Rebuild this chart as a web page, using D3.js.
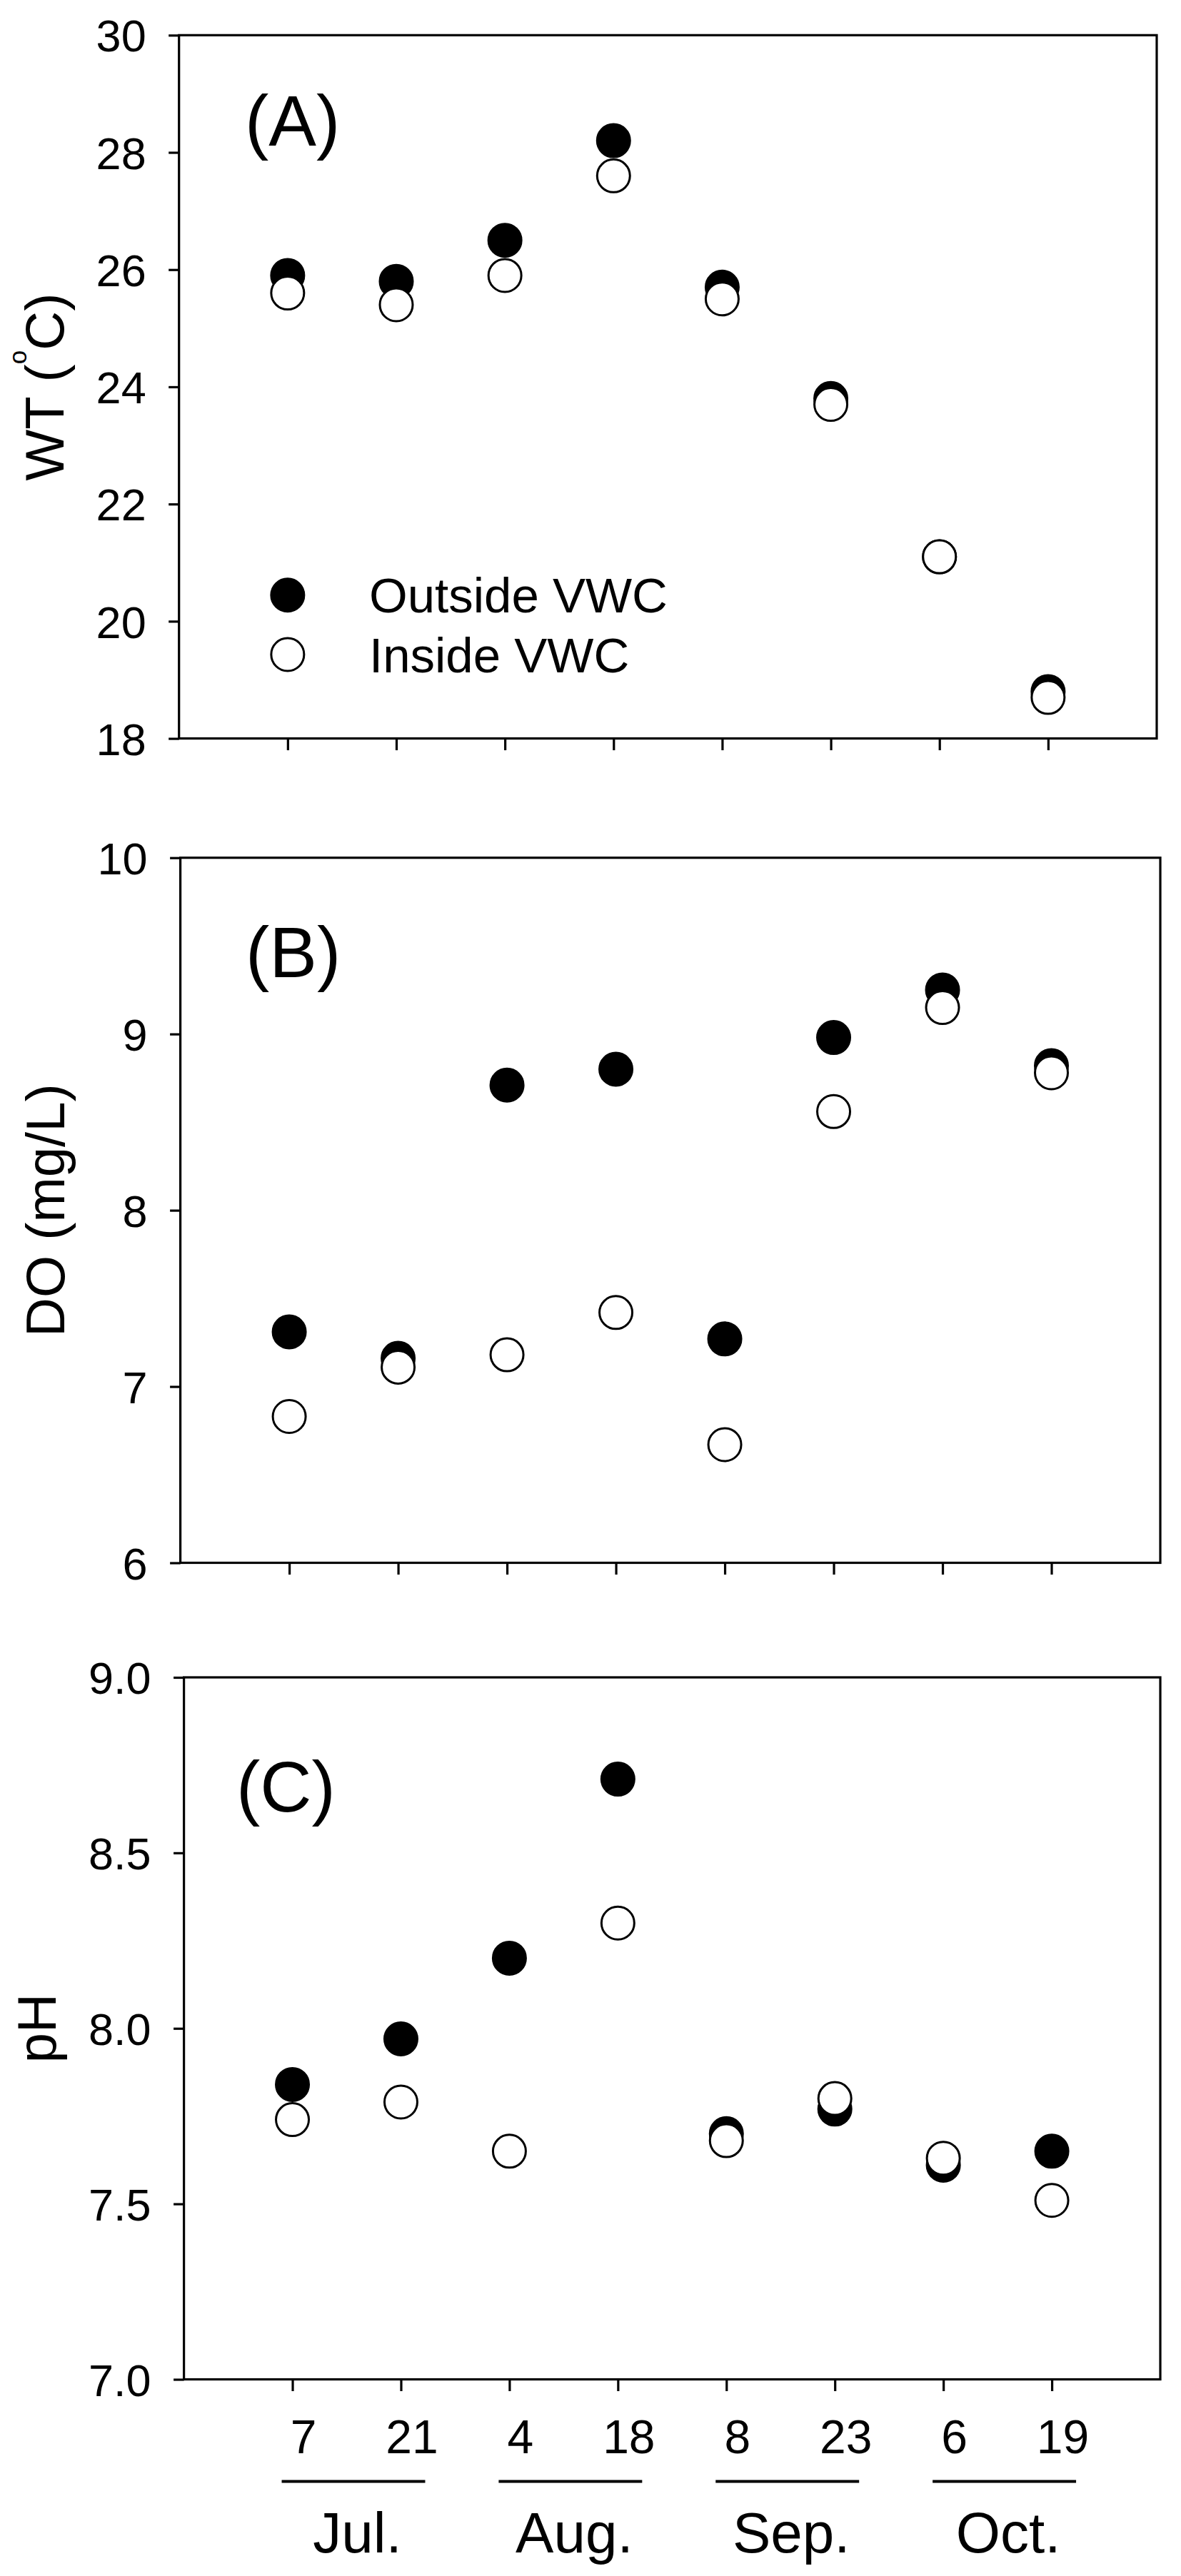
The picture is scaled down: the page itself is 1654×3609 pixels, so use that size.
<!DOCTYPE html>
<html>
<head>
<meta charset="utf-8">
<script src="https://cdn.jsdelivr.net/npm/d3@7"></script>
<style>
  body { margin: 0; background: #fff; }
  svg text { font-family: "Liberation Sans", Arial, Helvetica, sans-serif; fill: #000; }
</style>
</head>
<body>
<script>
// sampling dates
let dayLabels = ["7", "21", "4", "18", "8", "23", "6", "19"];
let monthLabels = ["Jul.", "Aug.", "Sep.", "Oct."];
let seriesNames = ["Outside VWC", "Inside VWC"];

// water temperature (C)
let wtOutside = [25.9, 25.8, 26.5, 28.2, 25.7, 23.8, 21.1, 18.8];
let wtInside  = [25.6, 25.4, 25.9, 27.6, 25.5, 23.7, 21.1, 18.7];
// dissolved oxygen (mg/L)
let doOutside = [7.31, 7.16, 8.71, 8.80, 7.27, 8.98, 9.25, 8.82];
let doInside  = [6.83, 7.11, 7.18, 7.42, 6.67, 8.56, 9.15, 8.78];
// pH
let phOutside = [7.84, 7.97, 8.20, 8.71, 7.70, 7.77, 7.61, 7.65];
let phInside  = [7.74, 7.79, 7.65, 8.30, 7.68, 7.80, 7.63, 7.51];

let wtTicks = [18, 20, 22, 24, 26, 28, 30];
let doTicks = [6, 7, 8, 9, 10];
let phTicks = [7.0, 7.5, 8.0, 8.5, 9.0];

let panels = [
  {tag: "(A)", out: wtOutside, ins: wtInside, domain: [18, 30], ticks: wtTicks, fmt: d3.format("d"),
   label: [{t: "WT ("}, {t: "o", sup: true}, {t: "C)"}],
   box: {left: 250.7, right: 1620, top: 49.3, bottom: 1034.6},
   tagX: 343, tagY: 204, labelX: 89, legend: true},
  {tag: "(B)", out: doOutside, ins: doInside, domain: [6, 10], ticks: doTicks, fmt: d3.format("d"),
   label: [{t: "DO (mg/L)"}],
   box: {left: 252.6, right: 1625, top: 1201.7, bottom: 2189.5},
   tagX: 344, tagY: 1369, labelX: 90},
  {tag: "(C)", out: phOutside, ins: phInside, domain: [7, 9], ticks: phTicks, fmt: d3.format(".1f"),
   label: [{t: "pH"}],
   box: {left: 257.6, right: 1625, top: 2350, bottom: 3333.5},
   tagX: 331, tagY: 2538, labelX: 78, days: true}
];

let svg = d3.select("body").append("svg")
    .attr("width", 1654)
    .attr("height", 3609)
    .style("display", "block")
    .style("background", "#fff");

let xIdx = d3.range(1, dayLabels.length + 1);
let lw = 3.2;

panels.forEach(function(p) {
  let b = p.box;
  let x = d3.scaleLinear().domain([0, 9]).range([b.left, b.right]);
  let y = d3.scaleLinear().domain(p.domain).range([b.bottom, b.top]);
  let g = svg.append("g");

  // frame
  g.append("rect")
      .attr("x", b.left).attr("y", b.top)
      .attr("width", b.right - b.left).attr("height", b.bottom - b.top)
      .attr("fill", "none").attr("stroke", "#000").attr("stroke-width", lw);

  // y axis
  let yAxis = g.append("g")
      .attr("transform", "translate(" + b.left + ",0)")
      .call(d3.axisLeft(y).tickValues(p.ticks).tickFormat(p.fmt).tickSize(14.5).tickPadding(31.5));
  yAxis.attr("font-family", null);
  yAxis.select(".domain").remove();
  yAxis.selectAll("line").attr("stroke", "#000").attr("stroke-width", lw);
  yAxis.selectAll("text").attr("font-size", 63).attr("dy", "0.36em");

  // x axis
  let xAxis = g.append("g")
      .attr("transform", "translate(0," + b.bottom + ")")
      .call(d3.axisBottom(x).tickValues(xIdx).tickSize(16.5).tickPadding(40.6)
        .tickFormat(p.days ? function(d) { return dayLabels[d - 1]; } : function() { return ""; }));
  xAxis.attr("font-family", null);
  xAxis.select(".domain").remove();
  xAxis.selectAll("line").attr("stroke", "#000").attr("stroke-width", lw);
  xAxis.selectAll("text").attr("font-size", 66).attr("dx", 15);

  // y label
  let lab = g.append("text")
      .attr("transform", "translate(" + p.labelX + "," + ((b.top + b.bottom) / 2) + ") rotate(-90)")
      .attr("text-anchor", "middle")
      .attr("font-size", 76);
  let shifted = false;
  p.label.forEach(function(s) {
    let ts = lab.append("tspan").text(s.t);
    if (s.sup) { ts.attr("font-size", 35).attr("dy", -52); shifted = true; }
    else if (shifted) { ts.attr("dy", 52); shifted = false; }
  });

  // panel tag
  g.append("text")
      .attr("x", p.tagX).attr("y", p.tagY)
      .attr("font-size", 100)
      .text(p.tag);

  // points: outside first, inside drawn over it
  g.selectAll("circle.out").data(p.out).join("circle")
      .attr("class", "out")
      .attr("cx", function(d, i) { return x(i + 1); })
      .attr("cy", function(d) { return y(d); })
      .attr("r", 23)
      .attr("fill", "#000").attr("stroke", "#000").attr("stroke-width", 3);
  g.selectAll("circle.ins").data(p.ins).join("circle")
      .attr("class", "ins")
      .attr("cx", function(d, i) { return x(i + 1); })
      .attr("cy", function(d) { return y(d); })
      .attr("r", 23)
      .attr("fill", "#fff").attr("stroke", "#000").attr("stroke-width", 3);

  // legend
  if (p.legend) {
    let lg = g.append("g");
    seriesNames.forEach(function(name, k) {
      lg.append("circle")
          .attr("cx", x(1)).attr("cy", b.top + 784.4 + k * 83.3)
          .attr("r", 23)
          .attr("fill", k == 0 ? "#000" : "#fff")
          .attr("stroke", "#000").attr("stroke-width", 3);
      lg.append("text")
          .attr("x", 517).attr("y", b.top + 808.5 + k * 84.2)
          .attr("font-size", 69)
          .text(name);
    });
  }

  // month groups under the date labels
  if (p.days) {
    monthLabels.forEach(function(m, k) {
      let i0 = 2 * k + 1, i1 = 2 * k + 2;
      g.append("line")
          .attr("x1", x(i0) - 15).attr("x2", x(i1) + 34)
          .attr("y1", b.bottom + 143).attr("y2", b.bottom + 143)
          .attr("stroke", "#000").attr("stroke-width", 4);
      g.append("text")
          .attr("x", (x(i0) + x(i1)) / 2 + 15)
          .attr("y", b.bottom + 242.5)
          .attr("text-anchor", "middle")
          .attr("font-size", 80)
          .text(m);
    });
  }
});
</script>
</body>
</html>
